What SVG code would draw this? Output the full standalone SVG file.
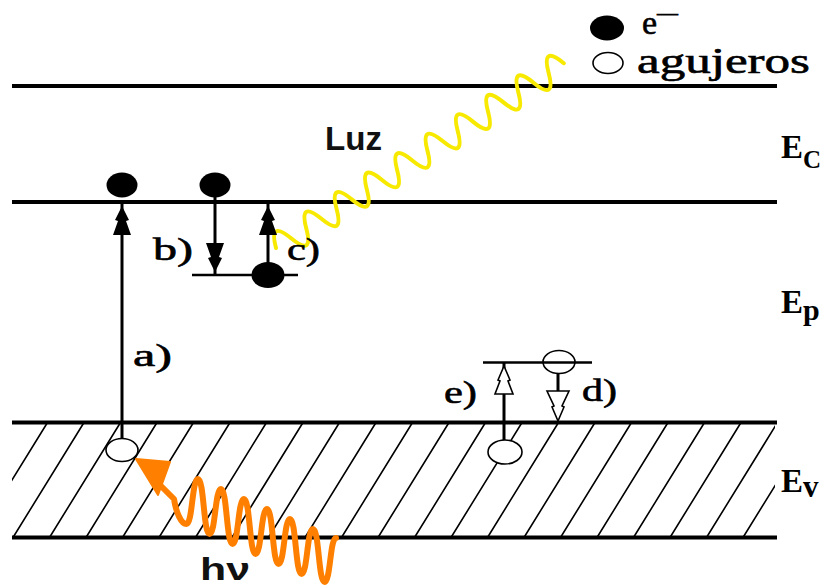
<svg xmlns="http://www.w3.org/2000/svg" width="835" height="588" viewBox="0 0 835 588">
<style>
.lvl{stroke:#000;stroke-width:4;fill:none}
.sub{stroke:#000;stroke-width:2.5;fill:none}
.hatch{stroke:#000;stroke-width:1.6;fill:none}
.el{fill:#000}
.hole{fill:#fff;stroke:#000;stroke-width:1.6}
.ln{stroke:#000;stroke-width:3;fill:none}
.ah{fill:#000}
.ahh{fill:#fff;stroke:#000;stroke-width:1.6}
.lbl{font-family:"Liberation Serif",serif;font-size:31px;fill:#000;stroke:#000;stroke-width:0.6}
.sym{font-family:"Liberation Serif",serif;font-weight:bold;fill:#000}
.sans{font-family:"Liberation Sans",Arial,sans-serif;font-weight:bold;fill:#111}
</style>
<defs><clipPath id="cb"><rect x="12" y="422" width="763" height="116"/></clipPath></defs>
<rect width="835" height="588" fill="#fff"/>
<g id="valence-hatch" clip-path="url(#cb)">
<path class="hatch" d="M-23.5,537.5L47.5,422.5M13,537.5L84,422.5M49.5,537.5L120.5,422.5M86,537.5L157,422.5M122.5,537.5L193.5,422.5M159,537.5L230,422.5M195.5,537.5L266.5,422.5M232,537.5L303,422.5M268.5,537.5L339.5,422.5M305,537.5L376,422.5M341.5,537.5L412.5,422.5M378,537.5L449,422.5M414.5,537.5L485.5,422.5M451,537.5L522,422.5M487.5,537.5L558.5,422.5M524,537.5L595,422.5M560.5,537.5L631.5,422.5M597,537.5L668,422.5M633.5,537.5L704.5,422.5M670,537.5L741,422.5M706.5,537.5L777.5,422.5M743,537.5L814,422.5"/>
</g>
<g id="levels">
<line class="lvl" x1="12" y1="86" x2="777" y2="86"/>
<line class="lvl" x1="12" y1="202" x2="777" y2="202"/>
<line class="lvl" x1="12" y1="422.5" x2="777" y2="422.5"/>
<line class="lvl" x1="12" y1="537.5" x2="777" y2="537.5"/>
</g>
<g id="photon-hv">
<path d="M160,485 L174,499 C176,512 181,524 186.5,524 C192.5,524 192,479 198,479 C204,479 203.5,534 209.5,534 C215.5,534 215,489 221,489 C227,489 226.5,544 232.5,544 C238.5,544 238,499 244,499 C250,499 249.5,554 255.5,554 C261.5,554 261,509 267,509 C273,509 272.5,564 278.5,564 C284.5,564 284,519 290,519 C296,519 295.5,574 301.5,574 C307.5,574 307,529 313,529 C319,529 318.5,582 324.5,582 C330.5,582 330,538 336,538" fill="none" stroke="#FF8000" stroke-width="6" stroke-linejoin="round" stroke-linecap="round"/>
<polygon points="136,459 170,462 158,495" fill="#FF8000" stroke="#FF8000" stroke-width="2" stroke-linejoin="round"/>
</g>
<g id="light-wave" transform="translate(276,248) rotate(-32.7)">
<path d="M0,0 q9,-28 18,0 t18,0 t18,0 t18,0 t18,0 t18,0 t18,0 t18,0 t18,0 t18,0 t18,0 t18,0 t18,0 t18,0 t18,0 t18,0 t18,0 t18,0 t18,0" fill="none" stroke="#F7EA00" stroke-width="4" stroke-linecap="round"/>
</g>
<g id="trap-levels">
<line class="sub" x1="192" y1="275" x2="298" y2="275"/>
</g>
<g id="connectors">
<line class="ln" x1="122" y1="439" x2="122" y2="204"/>
<polygon class="ah" points="122,206 129,220 126,221 131,235 113,235 118,221 115,220"/>
<line class="ln" x1="215" y1="197" x2="215" y2="275"/>
<polygon class="ah" points="215,272 222,258 219,257 224,243 206,243 211,257 208,258"/>
<line class="ln" x1="268" y1="265" x2="268" y2="204"/>
<polygon class="ah" points="268,206 275,220 272,221 277,235 259,235 264,221 261,220"/>
<line class="ln" x1="504" y1="440" x2="504" y2="363"/>
<polygon class="ahh" points="504,366 510,380 508,381 513,394 495,394 500,381 498,380"/>
<line class="ln" x1="558" y1="373" x2="558" y2="392"/>
<polygon class="ahh" points="558,421 564,407 562,406 569,391 547,391 554,406 552,407"/>
</g>
<g id="electron-a"><ellipse class="el" cx="122" cy="185" rx="15.5" ry="12.5"/></g>
<g id="electron-b"><ellipse class="el" cx="215" cy="185" rx="15.5" ry="12.5"/></g>
<g id="electron-c"><ellipse class="el" cx="268" cy="275" rx="16.5" ry="13"/></g>
<g id="hole-a"><ellipse class="hole" cx="122" cy="450" rx="16" ry="11.5"/></g>
<g id="hole-e"><ellipse class="hole" cx="505" cy="452" rx="17" ry="12"/></g>
<g id="hole-d"><ellipse class="hole" cx="559" cy="362" rx="16" ry="11.5"/>
<line class="sub" x1="483" y1="362.5" x2="592" y2="362.5"/></g>
<g id="labels">
<text class="lbl" x="133" y="366" textLength="39" lengthAdjust="spacingAndGlyphs">a)</text>
<text class="lbl" x="153" y="260" textLength="40" lengthAdjust="spacingAndGlyphs">b)</text>
<text class="lbl" x="287" y="260" textLength="33" lengthAdjust="spacingAndGlyphs">c)</text>
<text class="lbl" x="582" y="401" textLength="35" lengthAdjust="spacingAndGlyphs">d)</text>
<text class="lbl" x="444" y="403" textLength="33" lengthAdjust="spacingAndGlyphs">e)</text>
<text class="sans" x="325" y="150" font-size="33" textLength="57" lengthAdjust="spacingAndGlyphs">Luz</text>
<text class="sans" x="200" y="580" font-size="31" textLength="50" lengthAdjust="spacingAndGlyphs">hν</text>
</g>
<g id="band-labels">
<text class="sym" x="781" y="158" font-size="33">E<tspan font-size="25" dy="10">C</tspan></text>
<text class="sym" x="781" y="313" font-size="33">E<tspan font-size="30" dy="7">p</tspan></text>
<text class="sym" x="781" y="492" font-size="33">E<tspan font-size="31" dy="5">v</tspan></text>
</g>
<g id="legend">
<ellipse class="el" cx="607" cy="28" rx="17" ry="12.5"/>
<ellipse class="hole" cx="608" cy="63" rx="15" ry="10.5"/>
<text class="lbl" x="642" y="34" style="font-size:34px">e<tspan dy="-14" style="font-size:21px">—</tspan></text>
<text class="lbl" x="637" y="73" style="font-size:35px" textLength="173" lengthAdjust="spacingAndGlyphs">agujeros</text>
</g>
</svg>
